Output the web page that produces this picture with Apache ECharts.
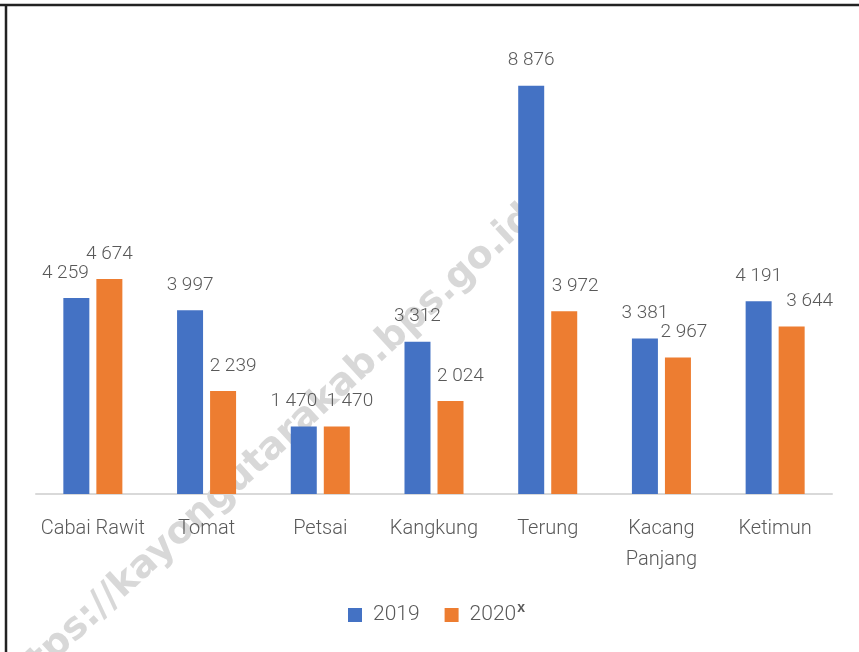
<!DOCTYPE html>
<html>
<head>
<meta charset="utf-8">
<script src="https://cdn.jsdelivr.net/npm/echarts@6/dist/echarts.min.js"></script>
<style>
  html, body { margin: 0; padding: 0; background: #fff; }
  #chart { width: 859px; height: 652px; }
</style>
</head>
<body>
<div id="chart"></div>
<script>
const CATEGORIES = ['Cabai Rawit', 'Tomat', 'Petsai', 'Kangkung', 'Terung', 'Kacang\nPanjang', 'Ketimun']
const VALUES_2019 = [4259, 3997, 1470, 3312, 8876, 3381, 4191]
const VALUES_2020 = [4674, 2239, 1470, 2024, 3972, 2967, 3644]

const FONT = "Roboto, 'Liberation Sans', sans-serif"
const TEXT = '#595959'

// Excel nudged some labels sideways to avoid overlaps; copy that.
const NUDGE_2019 = [-11, 0, -10, 0, 0, 0, 0]
const NUDGE_2020 = [0, 10, 13, 10, 11, 6, 18]

const fmt = (v) => String(v).replace(/\B(?=(\d{3})+(?!\d))/g, ' ')

function barSeries(name, values, color, nudge) {
  return {
    name,
    type: 'bar',
    barWidth: 26,
    barGap: '27%',
    itemStyle: { color },
    data: values.map((v, i) => ({
      value: v,
      label: { offset: [nudge[i], 0] },
    })),
    label: {
      show: true,
      position: 'top',
      distance: 14,
      color: TEXT,
      fontFamily: FONT,
      fontWeight: 300,
      fontSize: 19,
      lineHeight: 22,
      formatter: (p) => fmt(p.value),
    },
  }
}

const chart = echarts.init(document.getElementById('chart'), null, { renderer: 'canvas' })

chart.setOption({
  backgroundColor: '#fff',
  animation: false,
  grid: { left: 36, right: 27, top: 34, bottom: 158 },
  xAxis: {
    type: 'category',
    data: CATEGORIES,
    axisTick: { show: false },
    axisLine: { lineStyle: { color: '#d9d9d9', width: 2 } },
    axisLabel: {
      color: TEXT, fontFamily: FONT, fontWeight: 300, fontSize: 20, lineHeight: 31,
      margin: 19, interval: 0,
    },
  },
  yAxis: { type: 'value', min: 0, max: 10000, show: false },
  legend: {
    left: 348, top: 601, padding: 0,
    itemWidth: 14, itemHeight: 14, itemGap: 25,
    icon: 'rect',
    textStyle: {
      color: TEXT, fontFamily: FONT, fontWeight: 300, fontSize: 21, lineHeight: 28,
      padding: [0, 0, 0, 6],
      rich: {
        sup: { fontFamily: "'Liberation Sans', sans-serif", fontSize: 14, fontWeight: 'bold',
               color: TEXT, verticalAlign: 'top', lineHeight: 28, padding: [0, 0, 6, 1] },
      },
    },
    formatter: (n) => (n === '2020x' ? '2020{sup|x}' : n),
  },
  graphic: [
    {
      type: 'text', z: 0, silent: true,
      x: 530, y: 212, rotation: 42.5 * Math.PI / 180,
      style: {
        text: 'https://kayongutarakab.bps.go.id',
        align: 'right', verticalAlign: 'middle',
        fontFamily: "'DejaVu Sans', sans-serif", fontWeight: 'bold', fontSize: 38,
        fill: 'rgba(200,200,200,0.7)',
      },
    },
    { type: 'line', z: 10, silent: true, shape: { x1: 0, y1: 5, x2: 859, y2: 5 },
      style: { stroke: '#222', lineWidth: 2.5 } },
    { type: 'line', z: 10, silent: true, shape: { x1: 6, y1: 4, x2: 6, y2: 652 },
      style: { stroke: '#222', lineWidth: 2.5 } },
  ],
  series: [
    barSeries('2019', VALUES_2019, '#4472C4', NUDGE_2019),
    barSeries('2020x', VALUES_2020, '#ED7D31', NUDGE_2020),
  ],
})
</script>
</body>
</html>
